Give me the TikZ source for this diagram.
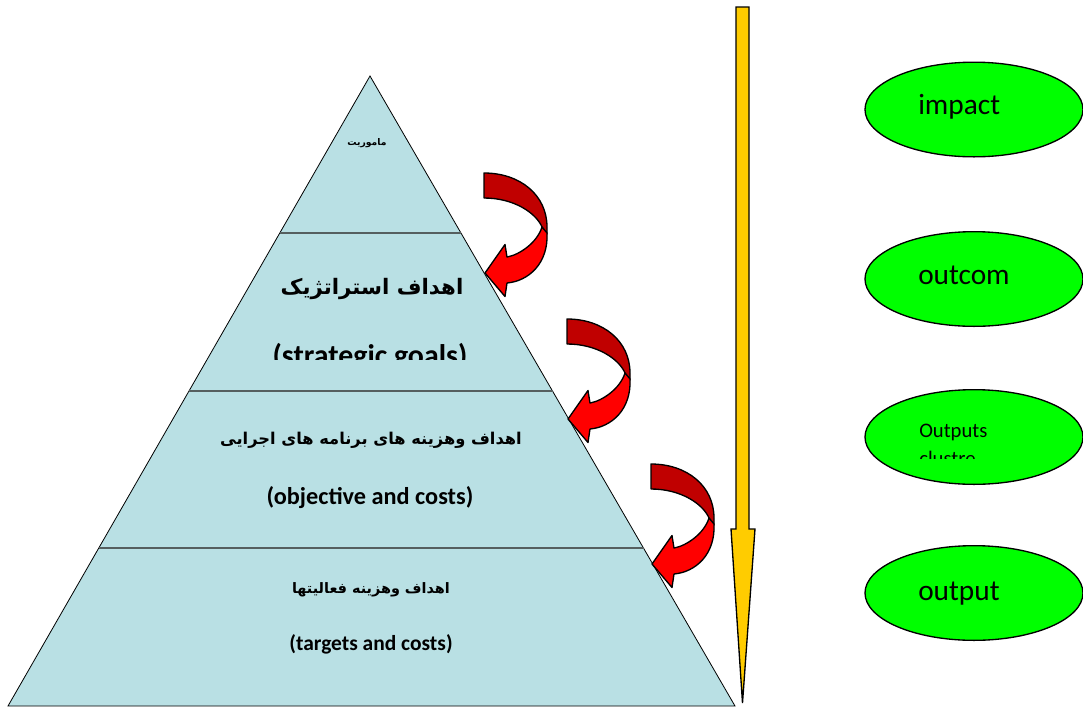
\documentclass[tikz,border=0pt]{standalone}
\usepackage{fontspec}
\setmainfont{Carlito}
\newfontfamily\fa[Script=Arabic]{DejaVu Sans}
\TeXXeTstate=1
\usetikzlibrary{shapes.geometric}

\definecolor{pyrfill}{RGB}{185,224,228}
\definecolor{divider}{RGB}{85,95,95}
\definecolor{darkred}{RGB}{192,0,0}
\definecolor{brightred}{RGB}{255,0,0}
\definecolor{gold}{RGB}{255,204,0}
\definecolor{lime}{RGB}{0,255,0}

\newcommand\fsz[1]{\fontsize{#1}{1.2\dimexpr#1\relax}\selectfont}

% twisted red arrow, drawn from the top-left corner of its tail
\newcommand\twistarrow[2]{%
  \begin{scope}[shift={(#1,#2)}]
    \filldraw[fill=darkred, draw=black, line width=1pt, line join=round]
      (0,0) .. controls (36,0) and (63,22) .. (63,54) -- (63,61)
      -- (58,54) .. controls (52,40) and (30,25) .. (0,25) -- cycle;
    \filldraw[fill=brightred, draw=black, line width=1pt, line join=round]
      (58,54) -- (63,60) .. controls (64.5,90) and (45,108) .. (23,110)
      -- (21,123.5) -- (1,100) -- (21,71.5) -- (23,84)
      .. controls (35,82) and (53,70) .. (58,54) -- cycle;
  \end{scope}}

\tikzset{
  layer/.style={draw=divider, line width=1.5pt},
  ptext/.style={anchor=base, inner sep=0pt, font=\bfseries},
  goal/.style={ellipse, draw=black, line width=1pt, fill=lime,
    minimum width=163.5pt, minimum height=71pt, inner sep=0pt},
  gtext/.style={anchor=base west, inner sep=0pt, font=\fsz{22pt}},
}

\begin{document}
\begin{tikzpicture}[x=0.75pt, y=-0.75pt]
\useasboundingbox (0,0) rectangle (1083,708);
\fill[white] (0,0) rectangle (1083,708);

% pyramid
\filldraw[fill=pyrfill, draw=black, line width=0.6pt]
  (370,76) -- (735,706) -- (8,706) -- cycle;
\draw[layer] (280,233) -- (461,233);
\draw[layer] (189,391) -- (552.5,391);
\draw[layer] (99,548) -- (643.5,548);

% layer labels
\node[ptext] (mission) at (367,145) {\fsz{6.9pt}\fa\bfseries\beginR ماموریت\endR};
\node[ptext] (stratfa) at (372,294) {\fsz{16pt}\fa\bfseries\beginR اهداف استراتژیک\endR};
\begin{scope}
  \clip (190,300) rectangle (550,359);
  \node[ptext] (straten) at (370,365) {\fsz{22.4pt}(strategic goals)};
\end{scope}
\node[ptext] (objfa) at (371,444) {\fsz{12.2pt}\fa\bfseries\beginR اهداف وهزینه های برنامه های اجرایی\endR};
\node[ptext] (objen) at (370,504) {\fsz{18.2pt}(objective and costs)};
\node[ptext] (tgtfa) at (371,593) {\fsz{10.8pt}\fa\bfseries\beginR اهداف وهزینه فعالیتها\endR};
\node[ptext] (tgten) at (371,650) {\fsz{16.1pt}(targets and costs)};

% arrows between the layers
\twistarrow{484}{173}
\twistarrow{567}{319}
\twistarrow{651}{464}

% long downward arrow
\filldraw[fill=gold, draw=black, line width=1pt, line join=miter]
  (736,7) -- (749,7) -- (749,529) -- (755,529) -- (742.5,703)
  -- (731,529) -- (736,529) -- cycle;

% result ellipses
\node[goal] (impact) at (974,109.5) {};
\node[gtext] (impactt) at (918,114) {impact};
\node[goal] (outcom) at (974,279) {};
\node[gtext] (outcomt) at (918,284) {outcom};
\node[goal] (clusters) at (974,437) {};
\begin{scope}
  \clip (880,410) rectangle (1083,458);
  \node[anchor=base west, inner sep=0pt, font=\fsz{15.5pt}]
    (clusterst) at (919,437) {Outputs};
  \node[anchor=base west, inner sep=0pt, font=\fsz{15.5pt}]
    (clustert2) at (919,465) {clustre};
\end{scope}
\node[goal] (output) at (974,593) {};
\node[gtext] (outputt) at (918,600) {output};
\end{tikzpicture}
\end{document}
